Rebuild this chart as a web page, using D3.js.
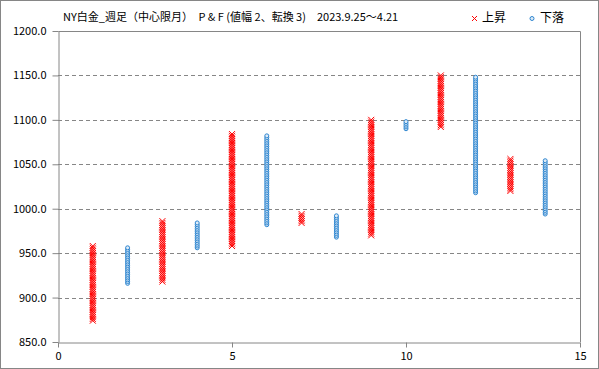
<!DOCTYPE html>
<html>
<head>
<meta charset="utf-8">
<script src="https://cdn.jsdelivr.net/npm/d3@7"></script>
<style>
  body { margin: 0; background: #fff; }
  svg { display: block; font-family: "Noto Sans CJK JP", sans-serif; }
</style>
</head>
<body>
<svg id="chart" width="599" height="369"></svg>
<script>
// P&F columns: box size 2, reversal 3
const boxSize = 2;
const columns = [1, 2, 3, 4, 5, 6, 7, 8, 9, 10, 11, 12, 13, 14];
const colType = ["X", "O", "X", "O", "X", "O", "X", "O", "X", "O", "X", "O", "X", "O"];
const colLow = [874, 916, 918, 956, 958, 982, 984, 968, 970, 1090, 1092, 1018, 1020, 994];
const colHigh = [958, 956, 986, 984, 1084, 1082, 994, 992, 1100, 1098, 1150, 1148, 1056, 1054];
const yTicks = [850, 900, 950, 1000, 1050, 1100, 1150, 1200];
const xTicks = [0, 5, 10, 15];
const title = "NY白金_週足（中心限月）　P & F (値幅 2、転換 3)　2023.9.25〜4.21";
const legendLabels = ["上昇", "下落"];

const svg = d3.select("#chart");
const W = 599, H = 369;
const margin = { top: 31, right: 19, bottom: 27, left: 58 };
const width = W - margin.left - margin.right;
const height = H - margin.top - margin.bottom;

// outer chart border
svg.append("rect")
  .attr("x", 0.5).attr("y", 0.5)
  .attr("width", W - 1).attr("height", H - 1)
  .attr("fill", "#fff").attr("stroke", "#868686");

const x = d3.scaleLinear().domain([0, 15]).range([0, width]);
const y = d3.scaleLinear().domain([850, 1200]).range([height, 0]);

const g = svg.append("g").attr("transform", `translate(${margin.left},${margin.top})`);

// gridlines
g.append("g")
  .selectAll("line")
  .data(yTicks.filter(d => d > 850 && d < 1200))
  .enter()
  .append("line")
  .attr("x1", 0).attr("x2", width)
  .attr("y1", d => Math.round(y(d)) + 0.5)
  .attr("y2", d => Math.round(y(d)) + 0.5)
  .attr("stroke", "#868686")
  .attr("stroke-dasharray", "4,3");

// plot area frame (top and right)
g.append("path")
  .attr("d", `M0.5,0.5H${width + 0.5}V${height}`)
  .attr("fill", "none")
  .attr("stroke", "#868686");

// axes
const yAxis = g.append("g")
  .attr("transform", "translate(0.5,0)")
  .call(d3.axisLeft(y).tickValues(yTicks).tickSize(6).tickSizeOuter(0).tickFormat(d3.format(".1f")));
const xAxis = g.append("g")
  .attr("transform", `translate(0,${Math.round(height) + 0.5})`)
  .call(d3.axisBottom(x).tickValues(xTicks).tickSize(5).tickSizeOuter(0));

[yAxis, xAxis].forEach(a => {
  a.select(".domain").attr("stroke", "#868686");
  a.selectAll(".tick line").attr("stroke", "#868686");
  a.selectAll("text").attr("fill", "#000").style("font-size", "11px")
    .style("font-family", '"Noto Sans CJK JP", sans-serif');
});
yAxis.selectAll("text").attr("x", -12);
xAxis.selectAll("text").attr("y", 10);

// expand columns into boxes
const boxes = [];
columns.forEach((c, i) => {
  for (let v = colLow[i]; v <= colHigh[i]; v += boxSize) {
    boxes.push({ col: c, type: colType[i], value: v });
  }
});

const marks = g.append("g");
const s = 3;
marks.selectAll("path.xmark")
  .data(boxes.filter(d => d.type === "X"))
  .enter()
  .append("path")
  .attr("class", "xmark")
  .attr("d", d => {
    const cx = x(d.col), cy = y(d.value);
    return `M${cx - s},${cy - s}L${cx + s},${cy + s}M${cx - s},${cy + s}L${cx + s},${cy - s}`;
  })
  .attr("stroke", "#FF0000")
  .attr("stroke-width", 1);

marks.selectAll("circle.omark")
  .data(boxes.filter(d => d.type === "O"))
  .enter()
  .append("circle")
  .attr("class", "omark")
  .attr("cx", d => x(d.col))
  .attr("cy", d => y(d.value))
  .attr("r", 2)
  .attr("fill", "#DEEBF7")
  .attr("stroke", "#2E86D0")
  .attr("stroke-width", 1);

// title
svg.append("text")
  .attr("x", 63).attr("y", 21)
  .style("font-size", "11px")
  .attr("fill", "#000")
  .text(title);

// legend
const leg = svg.append("g");
leg.append("path")
  .attr("d", "M472,16L477,21M472,21L477,16")
  .attr("stroke", "#FF0000");
leg.append("text").attr("x", 482).attr("y", 22).style("font-size", "12px").text(legendLabels[0]);
leg.append("circle").attr("cx", 532).attr("cy", 18.5).attr("r", 2)
  .attr("fill", "#DEEBF7").attr("stroke", "#2E86D0");
leg.append("text").attr("x", 540).attr("y", 22).style("font-size", "12px").text(legendLabels[1]);
</script>
</body>
</html>
